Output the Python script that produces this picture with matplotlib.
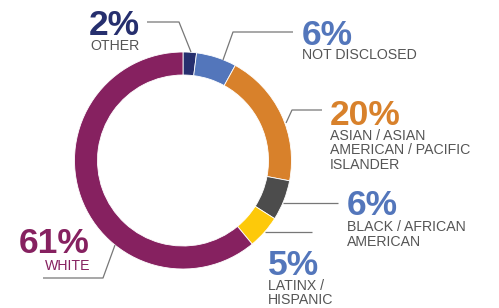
from matplotlib import pyplot as plt

# data
groups = ['OTHER', 'NOT DISCLOSED', 'ASIAN / ASIAN\nAMERICAN / PACIFIC\nISLANDER',
          'BLACK / AFRICAN\nAMERICAN', 'LATINX /\nHISPANIC', 'WHITE']
shares = [2, 6, 20, 6, 5, 61]
colors = ['#262f6e', '#5376bb', '#d8812b', '#4c4c4c', '#fdc90a', '#862160']

W, H = 499, 308


def py(y):
    # pixel row from top -> data y
    return H - y


fig = plt.figure(figsize=(W / 100., H / 100.), dpi=100)
ax = fig.add_axes([0, 0, 1, 1])

cx, cy, r = 183, py(160.5), 108.5
ax.pie(shares, colors=colors, startangle=90, counterclock=False,
       center=(cx, cy), radius=r,
       wedgeprops=dict(width=23, edgecolor='white', linewidth=0.6))
ax.set_xlim(0, W)
ax.set_ylim(0, H)
ax.set_aspect('equal')
ax.axis('off')

# label layout: (x, pct baseline, label baseline, align, pct colour, label colour)
layout = [
    (140, 35, 50, 'right', colors[0], '#555555'),
    (302, 45, 59, 'left', colors[1], '#555555'),
    (330, 125, 140, 'left', colors[2], '#555555'),
    (347, 215, 231, 'left', colors[1], '#555555'),
    (268, 275, 290, 'left', colors[1], '#555555'),
    (90, 253, 270, 'right', colors[5], colors[5]),
]
leaders = [
    [(147, 22), (179, 22), (191, 52)],
    [(293, 32), (233, 32), (223, 60)],
    [(322, 110), (292, 110), (286, 123)],
    [(338, 203), (283, 203)],
    [(312, 232), (265, 232)],
    [(43, 278), (103, 278), (115, 245)],
]

for g, s, (x, yb, yl, ha, pc, lc), pts in zip(groups, shares, layout, leaders):
    ax.text(x, py(yb), '{0}%'.format(s), ha=ha, va='baseline', color=pc,
            fontsize=25.5, fontweight='bold', family='Liberation Sans')
    for i, line in enumerate(g.split('\n')):
        ax.text(x, py(yl + 14.5 * i), line, ha=ha, va='baseline', color=lc,
                fontsize=10.2, family='Liberation Sans')
    ax.plot([p[0] for p in pts], [py(p[1]) for p in pts], color='#777777',
            lw=0.9, solid_capstyle='butt')

plt.savefig('out.png', dpi=100)
